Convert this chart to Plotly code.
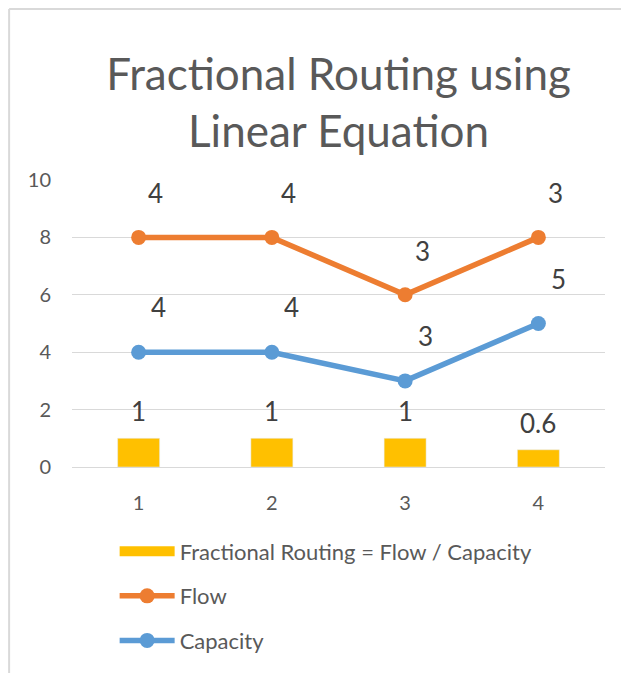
import plotly.graph_objects as go

categories = [1, 2, 3, 4]
fractional = [1, 1, 1, 0.6]
flow = [4, 4, 3, 3]
capacity = [4, 4, 3, 5]
y_ticks = [0, 2, 4, 6, 8, 10]

title_text = "Fractional Routing using<br>Linear Equation"
bar_name = "Fractional Routing = Flow / Capacity"
flow_name = "Flow"
cap_name = "Capacity"

FONT = "Lato"
C_BAR = "#FFC000"
C_FLOW = "#ED7D31"
C_CAP = "#5B9BD5"
C_TEXT = "#595959"
C_LABEL = "#404040"
C_BORDER = "#D9D9D9"

flow_top = [c + f for c, f in zip(capacity, flow)]

fig = go.Figure()

fig.add_trace(go.Bar(x=categories, y=fractional, marker_color=C_BAR, width=0.315,
                     showlegend=False, name=bar_name))
# legend proxy for bar
fig.add_trace(go.Scatter(x=[None], y=[None], mode="lines", name=bar_name,
                         line=dict(color=C_BAR, width=14), legendrank=1,
                         legendgroup="a"))
fig.add_trace(go.Scatter(x=categories, y=capacity, name=cap_name, stackgroup="s",
                         fill="none", mode="lines+markers",
                         line=dict(color=C_CAP, width=5.5),
                         marker=dict(size=15, color=C_CAP),
                         legendrank=3, legendgroup="c"))
fig.add_trace(go.Scatter(x=categories, y=flow, name=flow_name, stackgroup="s",
                         fill="none", mode="lines+markers",
                         line=dict(color=C_FLOW, width=5.5),
                         marker=dict(size=15, color=C_FLOW),
                         legendrank=2, legendgroup="b"))

annotations = []
for x, v in zip(categories, fractional):
    annotations.append(dict(x=x, y=v, text=str(v), showarrow=False, yshift=27,
                            font=dict(family=FONT, size=26, color=C_LABEL)))
for x, v, top in zip(categories, flow, flow_top):
    annotations.append(dict(x=x, y=top, text=str(v), showarrow=False,
                            xshift=17, yshift=44,
                            font=dict(family=FONT, size=26, color=C_LABEL)))
for x, v in zip(categories, capacity):
    annotations.append(dict(x=x, y=v, text=str(v), showarrow=False,
                            xshift=20, yshift=45,
                            font=dict(family=FONT, size=26, color=C_LABEL)))

bx0, by1 = -0.118, 1.596
fig.update_layout(
    width=621, height=665,
    margin=dict(l=64, r=24, t=172, b=206),
    paper_bgcolor="white", plot_bgcolor="white",
    font=dict(family=FONT, color=C_TEXT),
    title=dict(text=title_text, x=0.5, xref="paper", xanchor="center",
               y=0.877, yanchor="top", yref="container",
               font=dict(family=FONT, size=44, color=C_TEXT)),
    showlegend=True,
    legend=dict(orientation="v", x=0.08, xanchor="left", y=-0.221, yanchor="top",
                font=dict(family=FONT, size=22, color=C_TEXT),
                itemwidth=55, tracegroupgap=13, bgcolor="rgba(0,0,0,0)"),
    annotations=annotations,
    shapes=[
        dict(type="line", xref="paper", yref="paper", x0=bx0, x1=bx0,
             y0=-1.2, y1=by1, line=dict(color=C_BORDER, width=2), layer="below"),
        dict(type="line", xref="paper", yref="paper", x0=bx0, x1=1.2,
             y0=by1, y1=by1, line=dict(color=C_BORDER, width=2), layer="below"),
    ],
)

fig.update_xaxes(range=[0.5, 4.5], tickvals=categories, showline=False,
                 showgrid=False, ticks="", zeroline=False,
                 ticklabelstandoff=22,
                 tickfont=dict(family=FONT, size=20, color=C_TEXT))
fig.update_yaxes(range=[0, 10], tickvals=y_ticks, showgrid=True,
                 gridcolor="#D9D9D9", gridwidth=1, zeroline=True,
                 zerolinecolor="#D9D9D9", zerolinewidth=1, showline=False,
                 ticklabelstandoff=20,
                 tickfont=dict(family=FONT, size=20, color=C_TEXT))

fig.write_html("out.html")
